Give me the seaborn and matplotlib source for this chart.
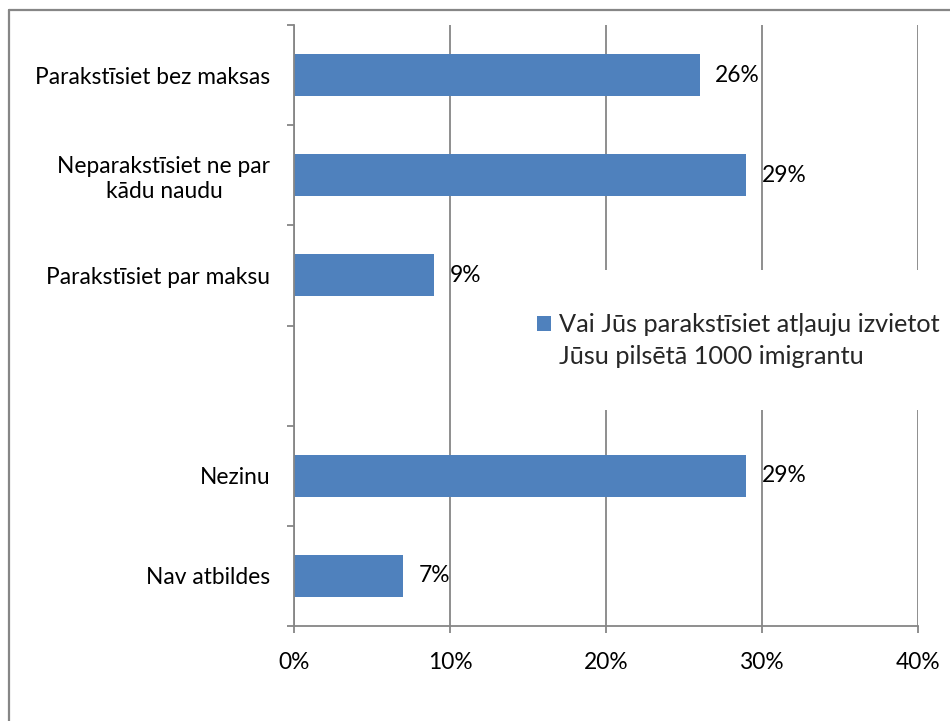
import matplotlib
matplotlib.use("Agg")
import matplotlib.pyplot as plt
from matplotlib.patches import Rectangle
from matplotlib.lines import Line2D
from matplotlib.ticker import FixedLocator, PercentFormatter
import seaborn as sns
import pandas as pd

categories = ["Parakstīsiet bez maksas", "Neparakstīsiet ne par\nkādu naudu",
              "Parakstīsiet par maksu", " ", "Nezinu", "Nav atbildes"]
values = [26, 29, 9, None, 29, 7]
series_name = "Vai Jūs parakstīsiet atļauju izvietot\nJūsu pilsētā 1000 imigrantu"
x_ticks = [0, 10, 20, 30, 40]

BAR = "#4F81BD"
GRID = "#868686"
FONT = ["Lato", "DejaVu Sans"]
FS = 16.4
LEG_FS = 18.2

sns.set_theme(style="white")
plt.rcParams["font.family"] = FONT

df = pd.DataFrame({"cat": categories, "val": values, "series": series_name})
df_plot = df.dropna(subset=["val"])

fig = plt.figure(figsize=(9.5, 7.21), dpi=100)
ax = fig.add_axes([294/950, 1-626/721, (918-294)/950, (626-25)/721])

sns.barplot(data=df_plot, x="val", y="cat", hue="series", order=categories,
            palette=[BAR], orient="h", width=0.42, ax=ax, legend=True,
            saturation=1, edgecolor="none")

ax.set_xlim(0, 40)
ax.set_ylim(len(categories)-0.5, -0.5)
ax.set_xlabel("")
ax.set_ylabel("")

ax.xaxis.set_major_locator(FixedLocator(x_ticks))
ax.xaxis.set_major_formatter(PercentFormatter(decimals=0))
ax.grid(axis="x", color=GRID, linewidth=1.3)
ax.set_axisbelow(True)

for s in ["top", "right"]:
    ax.spines[s].set_visible(False)
for s in ["left", "bottom"]:
    ax.spines[s].set_color(GRID)
    ax.spines[s].set_linewidth(1.3)

ax.tick_params(axis="x", which="major", direction="out", length=5, width=1.3,
               color=GRID, labelsize=FS, pad=14, bottom=True, labelcolor="black")
ax.tick_params(axis="y", which="major", length=0, pad=17, labelsize=FS,
               labelcolor="black")
ax.yaxis.set_minor_locator(FixedLocator([i - 0.5 for i in range(len(categories)+1)]))
ax.tick_params(axis="y", which="minor", direction="out", length=5, width=1.3,
               color=GRID, left=True)
for lab in ax.get_yticklabels():
    lab.set_multialignment("center")

for cont in ax.containers:
    ax.bar_label(cont, labels=[f"{v:.0f}%" for v in cont.datavalues],
                 padding=11, fontsize=FS, color="black")

# white area behind the legend (hides gridlines like the original)
ax.add_patch(Rectangle((525/950, 1-410/721), (950-525)/950, (410-270)/721,
                       transform=fig.transFigure, facecolor="white",
                       edgecolor="none", zorder=1.5, clip_on=False))

LS = 1.45
leg = ax.legend(loc="upper left", bbox_to_anchor=(527/950, 1-303/721),
                bbox_transform=fig.transFigure, frameon=False, fontsize=LEG_FS,
                handlelength=0.56, handleheight=0.56, handletextpad=0.3,
                borderaxespad=0, labelspacing=0.3)
for t in leg.get_texts():
    t.set_linespacing(LS)
# put the legend marker next to the first line of the label
for h in leg.legend_handles:
    h.set_y(h.get_y() + LS * LEG_FS - 14)

# outer chart frame (top and left edges visible)
fig.add_artist(Line2D([9/950, 9/950], [0, 1-10/721], transform=fig.transFigure,
                      color=GRID, linewidth=1.6))
fig.add_artist(Line2D([9/950, 1], [1-10/721, 1-10/721], transform=fig.transFigure,
                      color=GRID, linewidth=1.6))

fig.savefig("out.png", dpi=100)
